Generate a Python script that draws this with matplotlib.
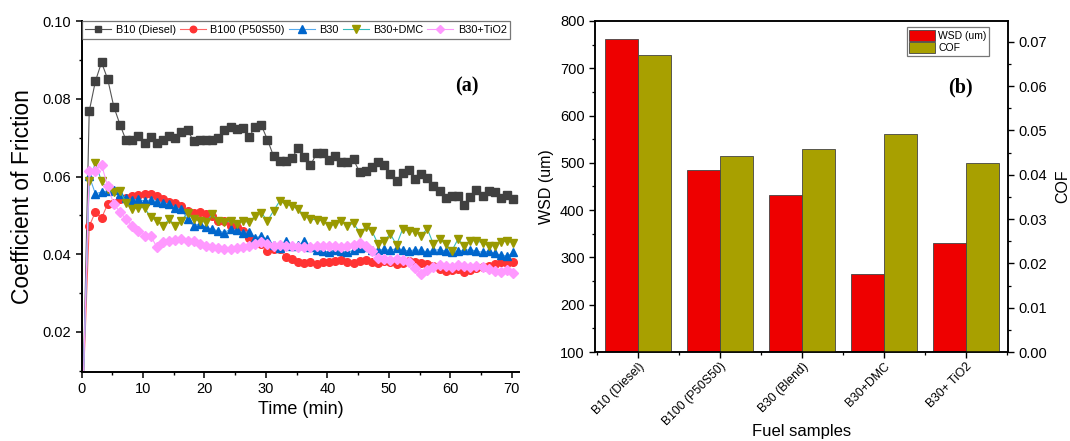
import numpy as np
import matplotlib
matplotlib.use("Agg")
import matplotlib.pyplot as plt
from matplotlib.ticker import MultipleLocator
from matplotlib.patches import Patch
from matplotlib.transforms import ScaledTranslation

plt.rcParams['font.family'] = ['Liberation Sans', 'DejaVu Sans']

# ---------------- data: panel (a) ----------------
time_min = np.arange(0.25, 71.0, 1.0)

cof_b10 = [0.005,
    0.0768, 0.0845, 0.0894, 0.0851, 0.0780, 0.0734, 0.0693, 0.0695, 0.0705, 0.0687,
    0.0702, 0.0687, 0.0695, 0.0705, 0.0700, 0.0714, 0.0719, 0.0691, 0.0695, 0.0695,
    0.0693, 0.0700, 0.0721, 0.0727, 0.0723, 0.0725, 0.0702, 0.0728, 0.0732, 0.0695,
    0.0652, 0.0640, 0.0641, 0.0648, 0.0674, 0.0651, 0.0629, 0.0660, 0.0661, 0.0642,
    0.0654, 0.0637, 0.0637, 0.0644, 0.0611, 0.0614, 0.0624, 0.0637, 0.0631, 0.0606,
    0.0588, 0.0610, 0.0616, 0.0594, 0.0606, 0.0597, 0.0576, 0.0563, 0.0544, 0.0550,
    0.0550, 0.0526, 0.0548, 0.0565, 0.0550, 0.0563, 0.0559, 0.0544, 0.0552, 0.0543]

cof_b100 = [0.005,
    0.0472, 0.0509, 0.0493, 0.0529, 0.0533, 0.0541, 0.0546, 0.0550, 0.0553, 0.0554,
    0.0554, 0.0550, 0.0541, 0.0535, 0.0533, 0.0524, 0.0512, 0.0507, 0.0509, 0.0503,
    0.0499, 0.0486, 0.0486, 0.0473, 0.0469, 0.0460, 0.0443, 0.0431, 0.0426, 0.0409,
    0.0413, 0.0413, 0.0392, 0.0388, 0.0379, 0.0378, 0.0379, 0.0375, 0.0379, 0.0379,
    0.0382, 0.0385, 0.0380, 0.0378, 0.0382, 0.0385, 0.0380, 0.0378, 0.0382, 0.0380,
    0.0376, 0.0378, 0.0382, 0.0380, 0.0378, 0.0375, 0.0370, 0.0362, 0.0358, 0.0360,
    0.0362, 0.0355, 0.0360, 0.0365, 0.0368, 0.0370, 0.0375, 0.0380, 0.0378, 0.0380]

cof_b30 = [0.005,
    0.0601, 0.0556, 0.0560, 0.0563, 0.0565, 0.0554, 0.0546, 0.0540, 0.0541, 0.0537,
    0.0540, 0.0535, 0.0533, 0.0529, 0.0520, 0.0516, 0.0490, 0.0473, 0.0479, 0.0469,
    0.0465, 0.0460, 0.0456, 0.0465, 0.0462, 0.0456, 0.0458, 0.0443, 0.0446, 0.0439,
    0.0424, 0.0415, 0.0435, 0.0422, 0.0424, 0.0433, 0.0418, 0.0412, 0.0409, 0.0405,
    0.0412, 0.0408, 0.0405, 0.0410, 0.0415, 0.0418, 0.0412, 0.0410, 0.0413, 0.0410,
    0.0415, 0.0412, 0.0408, 0.0412, 0.0410, 0.0406, 0.0410, 0.0412, 0.0408, 0.0405,
    0.0408, 0.0410, 0.0412, 0.0408, 0.0405, 0.0408, 0.0402, 0.0398, 0.0395, 0.0405]

cof_dmc = [0.005,
    0.0588, 0.0635, 0.0588, 0.0567, 0.0559, 0.0563, 0.0533, 0.0516, 0.0520, 0.0520,
    0.0495, 0.0486, 0.0473, 0.0490, 0.0473, 0.0486, 0.0507, 0.0490, 0.0486, 0.0482,
    0.0503, 0.0486, 0.0482, 0.0486, 0.0479, 0.0486, 0.0482, 0.0499, 0.0507, 0.0486,
    0.0512, 0.0537, 0.0529, 0.0524, 0.0516, 0.0499, 0.0490, 0.0489, 0.0486, 0.0473,
    0.0477, 0.0486, 0.0473, 0.0480, 0.0456, 0.0469, 0.0460, 0.0426, 0.0435, 0.0452,
    0.0424, 0.0465, 0.0460, 0.0458, 0.0448, 0.0466, 0.0426, 0.0439, 0.0426, 0.0409,
    0.0439, 0.0422, 0.0435, 0.0435, 0.0429, 0.0422, 0.0422, 0.0432, 0.0435, 0.0429]

cof_tio2 = [0.005,
    0.0614, 0.0614, 0.0631, 0.0575, 0.0529, 0.0509, 0.0490, 0.0473, 0.0460, 0.0448,
    0.0448, 0.0418, 0.0431, 0.0435, 0.0438, 0.0439, 0.0435, 0.0433, 0.0426, 0.0422,
    0.0418, 0.0415, 0.0413, 0.0413, 0.0415, 0.0418, 0.0422, 0.0426, 0.0431, 0.0426,
    0.0422, 0.0424, 0.0422, 0.0420, 0.0418, 0.0419, 0.0418, 0.0422, 0.0422, 0.0422,
    0.0420, 0.0418, 0.0420, 0.0425, 0.0428, 0.0420, 0.0408, 0.0390, 0.0388, 0.0385,
    0.0388, 0.0385, 0.0380, 0.0365, 0.0350, 0.0360, 0.0368, 0.0372, 0.0370, 0.0368,
    0.0372, 0.0370, 0.0368, 0.0370, 0.0366, 0.0362, 0.0358, 0.0355, 0.0360, 0.0352]

series_labels = ['B10 (Diesel)', 'B100 (P50S50)', 'B30', 'B30+DMC', 'B30+TiO2']

# ---------------- data: panel (b) ----------------
fuel_samples = ['B10 (Diesel)', 'B100 (P50S50)', 'B30 (Blend)', 'B30+DMC', 'B30+ TiO2']
wsd_um = [761, 484, 432, 266, 330]
cof_mean = [0.0671, 0.0443, 0.0459, 0.0492, 0.0427]

# ---------------- figure ----------------
fig = plt.figure(figsize=(10.7, 4.41), dpi=100)

ax = fig.add_axes([0.0762, 0.1565, 0.4090, 0.7955])

styles = [
    dict(marker='s', mfc='#404040', lc='#555555', ms=5.5),
    dict(marker='o', mfc='#ff3333', lc='#ff6666', ms=5.5),
    dict(marker='^', mfc='#0066cc', lc='#55aaee', ms=6.0),
    dict(marker='v', mfc='#999900', lc='#33bbbb', ms=6.0),
    dict(marker='D', mfc='#ff99ff', lc='#ff99ff', ms=5.0),
]
all_series = [cof_b10, cof_b100, cof_b30, cof_dmc, cof_tio2]
for vals, st, lab in zip(all_series, styles, series_labels):
    ax.plot(time_min, vals, color=st['lc'], lw=0.8, marker=st['marker'],
            mfc=st['mfc'], mec=st['mfc'], ms=st['ms'], label=lab)

ax.set_xlim(0, 71.2)
ax.set_ylim(0.0097, 0.10)
ax.xaxis.set_major_locator(MultipleLocator(10))
ax.xaxis.set_minor_locator(MultipleLocator(5))
ax.yaxis.set_major_locator(MultipleLocator(0.02))
ax.yaxis.set_minor_locator(MultipleLocator(0.01))
ax.yaxis.set_major_formatter(matplotlib.ticker.FormatStrFormatter('%.2f'))
for s in ['top', 'right']:
    ax.spines[s].set_visible(False)
for s in ['left', 'bottom']:
    ax.spines[s].set_linewidth(1.4)
ax.tick_params(which='major', direction='out', length=4, width=1.1, labelsize=10.5)
ax.tick_params(which='minor', direction='out', length=2.5, width=1.0)
ax.set_xlabel('Time (min)', fontsize=13, labelpad=3)
ax.set_ylabel('Coefficient of Friction', fontsize=16.5, labelpad=6)

leg = ax.legend(loc='upper left', bbox_to_anchor=(0.0, 1.0, 0.98, 0.0), mode='expand',
                ncol=5, fontsize=7.8, frameon=True, fancybox=False, borderaxespad=0.0,
                handlelength=2.4, handletextpad=0.4, columnspacing=0.8,
                borderpad=0.35, markerscale=0.85)
leg.get_frame().set_edgecolor('#555555')
leg.get_frame().set_linewidth(0.9)

ax.text(0.88, 0.815, '(a)', transform=ax.transAxes, fontsize=14.5,
        fontweight='bold', family='Liberation Serif', ha='center', va='center')

# ---------------- panel (b) ----------------
bx = fig.add_axes([0.5561, 0.2018, 0.3860, 0.7506])
bx2 = bx.twinx()
xpos = np.arange(len(fuel_samples))
w = 0.40
bx.bar(xpos - w / 2, wsd_um, w, color='#ee0000', edgecolor='#444444', linewidth=0.6,
       label='WSD (um)')
bx2.bar(xpos + w / 2, cof_mean, w, color='#a8a000', edgecolor='#444444', linewidth=0.6,
        label='COF')
bx.set_xlim(-0.524, 4.51)
bx.set_ylim(100, 800)
bx2.set_ylim(0, 0.0747)
bx.set_xticks(xpos)
bx.set_xticklabels(fuel_samples, rotation=45, ha='right', va='top',
                   rotation_mode='anchor', fontsize=8.8)
shift = ScaledTranslation(4 / 100, -5 / 100, fig.dpi_scale_trans)
for lbl in bx.get_xticklabels():
    lbl.set_transform(lbl.get_transform() + shift)
bx.xaxis.set_minor_locator(MultipleLocator(0.5))
bx.yaxis.set_major_locator(MultipleLocator(100))
bx.yaxis.set_minor_locator(MultipleLocator(50))
bx2.yaxis.set_major_locator(MultipleLocator(0.01))
bx2.yaxis.set_minor_locator(MultipleLocator(0.005))
bx2.yaxis.set_major_formatter(matplotlib.ticker.FormatStrFormatter('%.2f'))
for a in (bx, bx2):
    for s in a.spines.values():
        s.set_linewidth(1.1)
    a.tick_params(which='major', direction='out', length=4, width=1.0, labelsize=10.5)
    a.tick_params(which='minor', direction='out', length=2.5, width=0.9)
bx.tick_params(axis='x', which='major', labelsize=8.8, pad=2)
bx.set_xlabel('Fuel samples', fontsize=12)
bx.xaxis.set_label_coords(0.5, -0.218)
bx.set_ylabel('WSD (um)', fontsize=11.5, labelpad=4)
bx2.set_ylabel('COF', fontsize=11.5, labelpad=6)

handles = [Patch(facecolor='#ee0000', edgecolor='#444444', linewidth=0.6),
           Patch(facecolor='#a8a000', edgecolor='#444444', linewidth=0.6)]
leg2 = bx2.legend(handles, ['WSD (um)', 'COF'], loc='upper right',
                  bbox_to_anchor=(0.955, 0.982), fontsize=7.5, frameon=True,
                  fancybox=False, borderpad=0.25, handlelength=2.5, handleheight=1.3,
                  handletextpad=0.3, labelspacing=0.1, borderaxespad=0.0)
leg2.get_frame().set_edgecolor('#555555')
leg2.get_frame().set_linewidth(0.9)

bx2.text(0.885, 0.80, '(b)', transform=bx2.transAxes, fontsize=14.5,
         fontweight='bold', family='Liberation Serif', ha='center', va='center')

fig.savefig('out.png', dpi=100)
